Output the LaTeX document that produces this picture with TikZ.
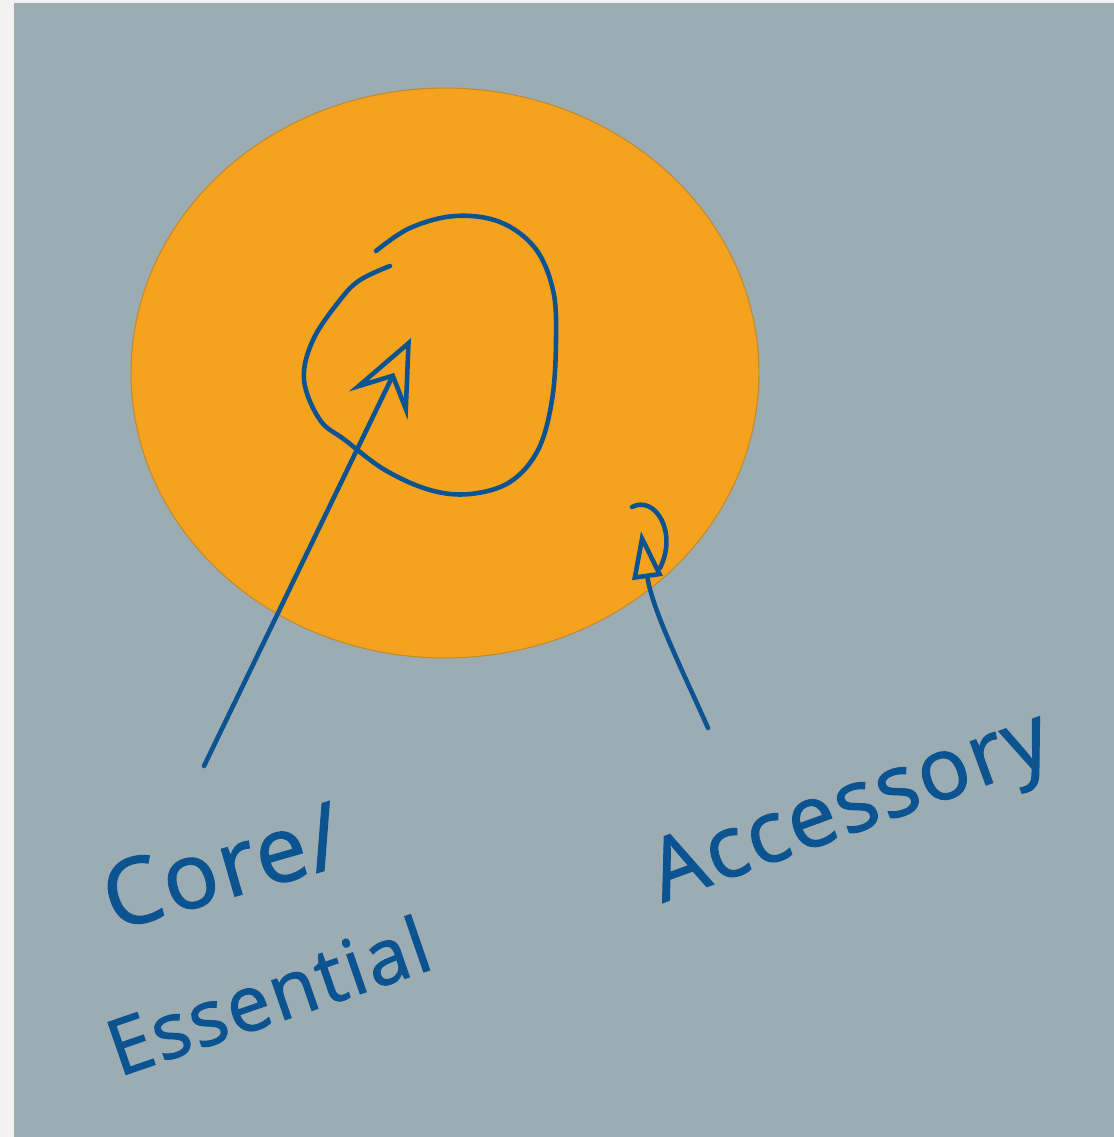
\documentclass[tikz,border=0pt]{standalone}
\usepackage{fontspec}
\setsansfont{Open Sans}
\newfontfamily\scrawlfont{Open Sans}[FakeBold=1.4,LetterSpace=3.0]
\usetikzlibrary{arrows.meta,shapes.geometric}
\definecolor{sketchpaper}{HTML}{F2F2F2}
\definecolor{sketchgrey}{HTML}{9BADB3}
\definecolor{sketchorange}{HTML}{F5A31E}
\definecolor{sketchedge}{HTML}{C08A30}
\definecolor{sketchblue}{HTML}{0B5391}

\begin{document}
\begin{tikzpicture}[
  x=0.02cm,y=-0.02cm,
  font=\sffamily,
  ink/.style={draw=sketchblue,line width=2.6pt,line cap=round,line join=round},
  scrawl/.style={text=sketchblue,font=\scrawlfont\fontsize{46}{50}\selectfont,
    inner sep=0pt},
  pointer/.style={ink,-{Stealth[open,length=1.5cm,width=1.3cm,inset=0.6cm]}},
  smallpointer/.style={ink,-{Triangle[open,length=0.95cm,width=0.6cm]}}
]
  \useasboundingbox (0,0) rectangle (1114,1137);
  \fill[sketchpaper] (0,0) rectangle (1114,1137);
  \fill[sketchgrey] (14,3) rectangle (1114,1137);

  \node[ellipse,draw=sketchedge,fill=sketchorange,line width=0.6pt,
    minimum width=12.56cm,minimum height=11.4cm,inner sep=0pt] (outer) at (445,373) {};

  % hand-drawn inner ring
  \draw[ink] plot[smooth,tension=0.6] coordinates {(376,251) (410,228) (455,216)
    (500,222) (535,248) (553,290) (556,340) (552,400) (538,450) (510,482)
    (470,494) (430,490) (385,470) (345,440) (320,420) (304,380) (313,340)
    (340,300) (360,280) (390,266)};

  \node[scrawl,rotate=16,font=\scrawlfont\fontsize{52}{56}\selectfont] (corelbl) at (222,866) {Core/};
  \node[scrawl,rotate=19,font=\scrawlfont\fontsize{44}{48}\selectfont] (essentiallbl) at (268,995) {Essential};
  \node[scrawl,rotate=20,font=\scrawlfont\fontsize{49}{53}\selectfont] (accessorylbl) at (852,812) {Accessory};

  \coordinate (coretail) at (204,766);
  \coordinate (coretip) at (411,338);
  \coordinate (accessorytail) at (708,728);
  \coordinate (accessorytip) at (641,531);

  \draw[pointer] (coretail) -- (coretip);
  \draw[smallpointer] (accessorytail) .. controls (686,678) and (652,610) .. (accessorytip);
  \draw[ink] (632,507) .. controls (655,495) and (678,532) .. (660,568);
\end{tikzpicture}
\end{document}
